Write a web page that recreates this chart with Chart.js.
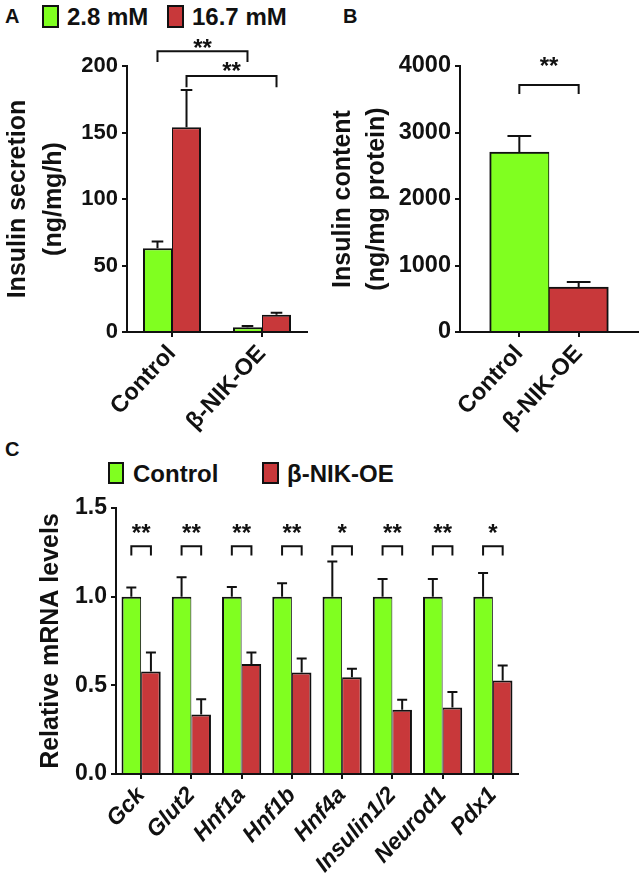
<!DOCTYPE html>
<html><head><meta charset="utf-8">
<script src="https://cdn.jsdelivr.net/npm/chart.js@4.4.1/dist/chart.umd.min.js"></script>
<style>
html,body{margin:0;padding:0;background:#fff;}
body{width:642px;height:881px;position:relative;overflow:hidden;font-family:"Liberation Sans",Arial,Helvetica,sans-serif;font-weight:bold;color:#111;}
.cv{position:absolute;}
.lbl{position:absolute;font-size:20px;font-weight:bold;line-height:1;}
.leg{position:absolute;font-size:24px;font-weight:bold;line-height:1;white-space:nowrap;}
.box{position:absolute;box-sizing:border-box;border:2px solid #111;}
</style></head><body>
<div class="lbl" style="left:5px;top:6px">A</div>
<div class="lbl" style="left:343px;top:6px">B</div>
<div class="lbl" style="left:5px;top:439px">C</div>
<div id="legA"></div>
<div id="legC"></div>
<canvas id="cA" class="cv" style="left:0;top:0" width="320" height="440"></canvas>
<canvas id="cB" class="cv" style="left:320px;top:0" width="322" height="440"></canvas>
<canvas id="cC" class="cv" style="left:0;top:430px" width="642" height="451"></canvas>
<script>
// ---------------- data ----------------
// Panel A
const groupsA = ['Control', 'β-NIK-OE'];
const seriesNamesA = ['2.8 mM', '16.7 mM'];
const secretionLow = [63, 3.5];
const secretionLowErr = [5, 1];
const secretionHigh = [154, 13];
const secretionHighErr = [28, 1.5];
const yTicksA = [0, 50, 100, 150, 200];
const sigA = ['**', '**'];

// Panel B
const groupsB = ['Control', 'β-NIK-OE'];
const contentVals = [2707, 677];
const contentErr = [240, 75];
const yTicksB = [0, 1000, 2000, 3000, 4000];
const sigB = ['**'];

// Panel C
const genes = ['Gck', 'Glut2', 'Hnf1a', 'Hnf1b', 'Hnf4a', 'Insulin1/2', 'Neurod1', 'Pdx1'];
const seriesNamesC = ['Control', 'β-NIK-OE'];
const mrnaControl = [1, 1, 1, 1, 1, 1, 1, 1];
const mrnaControlErr = [0.052, 0.109, 0.055, 0.075, 0.199, 0.10, 0.10, 0.134];
const mrnaNik = [0.578, 0.335, 0.62, 0.572, 0.546, 0.363, 0.375, 0.527];
const mrnaNikErr = [0.107, 0.087, 0.065, 0.079, 0.047, 0.055, 0.088, 0.085];
const yTicksC = [0, 0.5, 1.0, 1.5];
const sigC = ['**', '**', '**', '**', '*', '**', '**', '*'];

// ---------------- style ----------------
const FONT = '"Liberation Sans", Arial, Helvetica, sans-serif';
const GREEN = '#80FF20', RED = '#C8383A', INK = '#111';
const ROT = 47;
Chart.defaults.font.family = FONT;
Chart.defaults.color = INK;

// legends (HTML)
function legend(id, names, colors, items) {
  const el = document.getElementById(id);
  names.forEach((n, k) => {
    const it = items[k];
    const b = document.createElement('div');
    b.className = 'box';
    b.style.cssText = `left:${it.bx}px;top:${it.by}px;width:${it.bw}px;height:${it.bh}px;background:${colors[k]}`;
    el.appendChild(b);
    const t = document.createElement('div');
    t.className = 'leg';
    t.style.cssText = `left:${it.tx}px;top:${it.ty}px`;
    t.textContent = n;
    el.appendChild(t);
  });
}
legend('legA', seriesNamesA, [GREEN, RED], [
  {bx: 42, by: 5, bw: 17, bh: 23, tx: 67, ty: 5},
  {bx: 167, by: 5, bw: 17, bh: 23, tx: 192, ty: 5}
]);
legend('legC', seriesNamesC, [GREEN, RED], [
  {bx: 108, by: 462, bw: 16, bh: 22, tx: 133, ty: 462},
  {bx: 262, by: 462, bw: 17, bh: 22, tx: 287, ty: 462}
]);

// annotation plugin: error bars, brackets, stars
function makeAnnot(cfg) {
  return {
    id: 'annot',
    afterDatasetsDraw(chart) {
      const ctx = chart.ctx, ys = chart.scales.y;
      ctx.save();
      ctx.strokeStyle = INK; ctx.lineWidth = 2; ctx.lineCap = 'butt';
      (cfg.errors || []).forEach((errs, di) => {
        const meta = chart.getDatasetMeta(di);
        meta.data.forEach((bar, i) => {
          const v = meta.controller.getParsed(i).y;
          if (v === null || v === undefined || isNaN(v) || errs[i] == null) return;
          const top = ys.getPixelForValue(v + errs[i]);
          const half = Math.max(5, bar.width * 0.2);
          ctx.beginPath();
          ctx.moveTo(bar.x, bar.y); ctx.lineTo(bar.x, top);
          ctx.moveTo(bar.x - half, top); ctx.lineTo(bar.x + half, top);
          ctx.stroke();
        });
      });
      const fs = cfg.starSize || 24;
      ctx.font = `bold ${fs}px ${FONT}`;
      ctx.fillStyle = INK; ctx.textAlign = 'center'; ctx.textBaseline = 'alphabetic';
      (cfg.brackets || []).forEach(br => {
        const x1 = chart.getDatasetMeta(br.a[0]).data[br.a[1]].x;
        const x2 = chart.getDatasetMeta(br.b[0]).data[br.b[1]].x;
        const yt = ys.getPixelForValue(br.top), yl = ys.getPixelForValue(br.leg);
        ctx.beginPath();
        ctx.moveTo(x1, yl); ctx.lineTo(x1, yt); ctx.lineTo(x2, yt); ctx.lineTo(x2, yl);
        ctx.stroke();
        ctx.fillText(br.text, (x1 + x2) / 2, ys.getPixelForValue(br.textAt) + fs * 0.56);
      });
      ctx.restore();
    }
  };
}

function yAxis(ticksArr, width, title, titlePad, tickSize, fmt, lh) {
  return {
    min: ticksArr[0], max: ticksArr[ticksArr.length - 1],
    afterBuildTicks: s => { s.ticks = ticksArr.map(v => ({value: v})); },
    afterFit: s => { s.width = width; },
    border: {display: true, color: INK, width: 2},
    grid: {drawOnChartArea: false, drawTicks: true, tickLength: 5, color: INK, lineWidth: 2},
    ticks: {color: INK, padding: 4, font: {size: tickSize, weight: 'bold'}, callback: fmt || (v => v)},
    title: {display: true, text: title, color: INK, padding: {top: titlePad, bottom: 0},
      font: {size: 25, weight: 'bold', lineHeight: lh || 1.36}}
  };
}
function xBorderGrid() {
  return {
    border: {display: true, color: INK, width: 2},
    grid: {drawOnChartArea: false, drawTicks: true, tickLength: 5, color: INK, lineWidth: 2, offset: false}
  };
}
function bw(side) {
  return side === 0 ? {left: 2, top: 2, right: 1, bottom: 0} : {left: 1, top: 2, right: 2, bottom: 0};
}

// ---------------- Panel A ----------------
new Chart(document.getElementById('cA'), {
  type: 'bar',
  data: {
    labels: groupsA,
    datasets: [
      {label: seriesNamesA[0], data: secretionLow, backgroundColor: GREEN, borderColor: INK, borderWidth: bw(0), borderSkipped: false},
      {label: seriesNamesA[1], data: secretionHigh, backgroundColor: RED, borderColor: INK, borderWidth: bw(1), borderSkipped: false}
    ]
  },
  options: {
    responsive: false, animation: false, devicePixelRatio: 1,
    categoryPercentage: 0.645, barPercentage: 1,
    layout: {padding: {top: 66, right: 13, bottom: 0, left: 0}},
    plugins: {legend: {display: false}, tooltip: {enabled: false}},
    scales: {
      x: Object.assign({
        offset: true,
        afterFit: s => { s.height = 108; },
        ticks: {color: INK, padding: 3, autoSkip: false, minRotation: ROT, maxRotation: ROT, font: {size: 23.5, weight: 'bold'}}
      }, xBorderGrid()),
      y: yAxis(yTicksA, 127, ['Insulin secretion', '(ng/mg/h)'], 0, 22, null, 1.44)
    }
  },
  plugins: [makeAnnot({
    errors: [secretionLowErr, secretionHighErr],
    starSize: 24,
    brackets: [
      {a: [0, 0], b: [0, 1], top: 211, leg: 203, text: sigA[0], textAt: 218},
      {a: [1, 0], b: [1, 1], top: 192.5, leg: 184, text: sigA[1], textAt: 200.5}
    ]
  })]
});

// ---------------- Panel B ----------------
// empty spacer categories at both ends place the two bars like the original axis
const labelsB = ['', ...groupsB, ''];
new Chart(document.getElementById('cB'), {
  type: 'bar',
  data: {
    labels: labelsB,
    datasets: [{
      label: 'Insulin content',
      data: [null, ...contentVals, null],
      backgroundColor: [GREEN, GREEN, RED, RED], borderColor: INK,
      borderWidth: c => bw(c.dataIndex === 1 ? 0 : 1), borderSkipped: false
    }]
  },
  options: {
    responsive: false, animation: false, devicePixelRatio: 1,
    categoryPercentage: 1, barPercentage: 1,
    layout: {padding: {top: 66, right: 4, bottom: 0, left: 0}},
    plugins: {legend: {display: false}, tooltip: {enabled: false}},
    scales: {
      x: Object.assign({
        offset: false,
        afterBuildTicks: s => { s.ticks = s.ticks.filter(t => labelsB[t.value] !== ''); },
        afterFit: s => { s.height = 108; },
        ticks: {color: INK, padding: 3, autoSkip: false, minRotation: ROT, maxRotation: ROT,
          font: {size: 23.5, weight: 'bold'}}
      }, xBorderGrid()),
      y: yAxis(yTicksB, 140, ['Insulin content', '(ng/mg protein)'], 6, 23.5)
    }
  },
  plugins: [makeAnnot({
    errors: [[null, ...contentErr, null]],
    starSize: 24,
    brackets: [{a: [0, 1], b: [0, 2], top: 3714, leg: 3579, text: sigB[0], textAt: 4075}]
  })]
});

// ---------------- Panel C ----------------
new Chart(document.getElementById('cC'), {
  type: 'bar',
  data: {
    labels: genes,
    datasets: [
      {label: seriesNamesC[0], data: mrnaControl, backgroundColor: GREEN, borderColor: INK, borderWidth: bw(0), borderSkipped: false},
      {label: seriesNamesC[1], data: mrnaNik, backgroundColor: RED, borderColor: INK, borderWidth: bw(1), borderSkipped: false}
    ]
  },
  options: {
    responsive: false, animation: false, devicePixelRatio: 1,
    categoryPercentage: 0.78, barPercentage: 1,
    layout: {padding: {top: 78, right: 124, bottom: 0, left: 0}},
    plugins: {legend: {display: false}, tooltip: {enabled: false}},
    scales: {
      x: Object.assign({
        offset: true,
        afterFit: s => { s.height = 107; },
        ticks: {color: INK, padding: 3, autoSkip: false, minRotation: ROT, maxRotation: ROT,
          font: {size: 23, weight: 'bold', style: 'italic'}}
      }, xBorderGrid()),
      y: yAxis(yTicksC, 116, 'Relative mRNA levels', 34, 23, v => v.toFixed(1))
    }
  },
  plugins: [makeAnnot({
    errors: [mrnaControlErr, mrnaNikErr],
    starSize: 24,
    brackets: genes.map((g, i) => ({a: [0, i], b: [1, i], top: 1.284, leg: 1.232, text: sigC[i], textAt: 1.39}))
  })]
});
</script>
</body></html>
